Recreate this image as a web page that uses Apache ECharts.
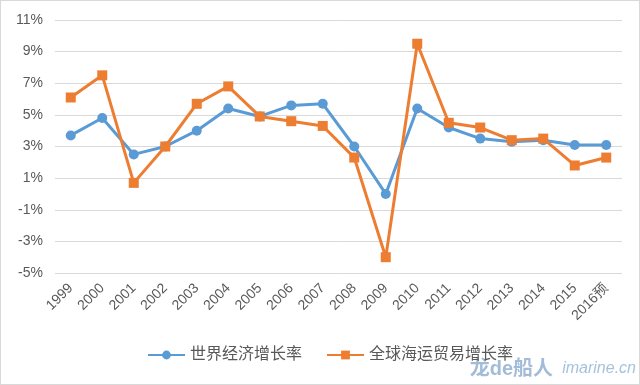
<!DOCTYPE html>
<html>
<head>
<meta charset="utf-8">
<script src="https://cdn.jsdelivr.net/npm/echarts@6/dist/echarts.min.js"></script>
<style>
html,body{margin:0;padding:0;background:#fff;}
#c{width:638px;height:383px;border:1px solid #d9d9d9;}
</style>
</head>
<body>
<div id="c"></div>
<script>
var categories = ['1999','2000','2001','2002','2003','2004','2005','2006','2007','2008','2009','2010','2011','2012','2013','2014','2015','2016预'];
var worldEconomy = [3.7, 4.8, 2.5, 3.0, 4.0, 5.4, 4.9, 5.6, 5.7, 3.0, 0.0, 5.4, 4.2, 3.5, 3.3, 3.4, 3.1, 3.1];
var seaborneTrade = [6.1, 7.5, 0.7, 3.0, 5.7, 6.8, 4.9, 4.6, 4.3, 2.3, -4.0, 9.5, 4.5, 4.2, 3.4, 3.5, 1.8, 2.3];
var seriesNames = ['世界经济增长率', '全球海运贸易增长率'];
var yTicks = [-5, -3, -1, 1, 3, 5, 7, 9, 11];

var chart = echarts.init(document.getElementById('c'));
var ff = "'Liberation Sans','Noto Sans CJK SC',sans-serif";
chart.setOption({
  animation: false,
  textStyle: {fontFamily: ff},
  grid: {left: 54, right: 17, top: 19, bottom: 111},
  legend: {
    bottom: 16, left: 141,
    itemWidth: 37, itemHeight: 11, itemGap: 24,
    textStyle: {fontSize: 16, color: '#595959', fontFamily: ff},
    data: seriesNames
  },
  xAxis: {
    type: 'category', data: categories, boundaryGap: true,
    axisLine: {show: false}, axisTick: {show: false},
    axisLabel: {rotate: 45, fontSize: 14, color: '#595959', margin: 13, interval: 0, fontFamily: ff}
  },
  yAxis: {
    type: 'value', min: -5, max: 11, interval: 2,
    axisLine: {show: false}, axisTick: {show: false},
    splitLine: {lineStyle: {color: '#d9d9d9', width: 1}},
    axisLabel: {fontSize: 14, color: '#595959', margin: 12, formatter: function(v){return v + '%';}, customValues: yTicks}
  },
  series: [
    {name: seriesNames[0], type: 'line', data: worldEconomy, symbol: 'circle', symbolSize: 10,
     lineStyle: {color: '#5B9BD5', width: 3}, itemStyle: {color: '#5B9BD5'}},
    {name: seriesNames[1], type: 'line', data: seaborneTrade, symbol: 'rect', symbolSize: 10,
     lineStyle: {color: '#ED7D31', width: 3}, itemStyle: {color: '#ED7D31'}}
  ],
  graphic: [
    {type: 'text', right: 3, bottom: 7, style: {text: 'imarine.cn', font: 'italic 16px ' + ff, fill: '#8fb3d3', opacity: 0.8}},
    {type: 'text', right: 86, bottom: 5, style: {text: '龙de船人', font: 'bold 20px ' + ff, fill: '#7a9fc8', opacity: 0.7}}
  ]
});
</script>
</body>
</html>
